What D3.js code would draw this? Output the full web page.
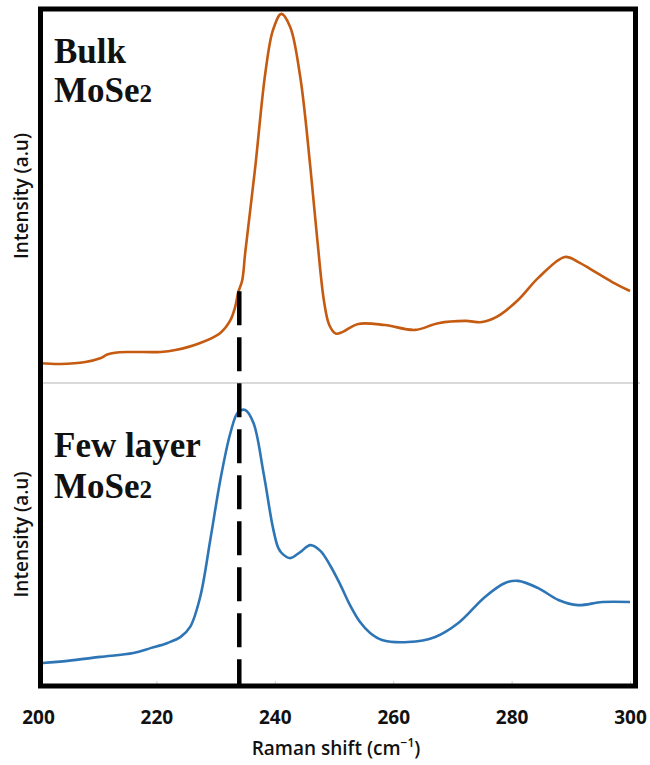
<!DOCTYPE html>
<html lang="en">
<head>
  <meta charset="UTF-8" />
  <title>Raman spectra – Bulk vs Few layer MoSe2</title>
  <script src="https://d3js.org/d3.v7.min.js"></script>
  <style>
    body { margin: 0; background: #fff; }
    svg { display: block; }
    .panel-label { font-family: "Liberation Serif", "Times New Roman", serif; font-weight: bold; font-size: 35px; fill: #111; }
    .axis-title { font-family: "Open Sans", sans-serif; font-size: 19px; font-weight: 600; fill: #111; }
    .tick text { font-family: "Open Sans", sans-serif; font-weight: bold; font-size: 19px; fill: #111; }
  </style>
</head>
<body>
  <svg width="650" height="765"></svg>
  <script>
    // Raman shift (cm-1) and intensity (a.u., 0-100 per panel)
    const bulkShift = [200.4, 203.8, 208.0, 210.5, 211.7, 213.0, 215.6, 220.7, 223.2, 227.4, 230.8, 232.5, 233.3, 233.8, 234.5, 235.0,
      236.7, 238.4, 239.7, 241.1, 242.6, 244.3, 246.0, 247.2, 248.3, 249.2, 250.3, 251.4, 254.1, 258.6, 263.7, 267.6,
      272.2, 275.0, 277.7, 281.1, 284.5, 289.0, 291.2, 293.6, 297.0, 300.0];
    const bulkIntensity = [5.3, 5.1, 5.6, 6.6, 7.6, 8.1, 8.3, 8.3, 8.8, 10.7, 13.4, 16.8, 20.3, 24.1, 27.5, 34.8,
      57.8, 82.9, 94.4, 98.7, 95.2, 81.8, 57.8, 38.0, 22.0, 15.5, 13.2, 13.6, 15.8, 15.5, 14.2, 16.0,
      16.6, 16.3, 17.9, 22.2, 28.1, 33.7, 32.4, 30.2, 27.0, 24.6];

    const fewShift = [200.8, 205.0, 210.5, 216.1, 219.0, 221.9, 224.1, 225.7, 227.4, 229.1, 230.8, 232.5, 233.8, 235.0,
      236.4, 238.1, 239.7, 240.6, 241.3, 242.6, 244.3, 246.0, 247.7, 249.4, 251.1, 252.7, 254.4, 256.1, 258.1,
      262.5, 267.1, 271.0, 275.5, 278.9, 281.1, 284.5, 287.9, 291.2, 295.3, 300.0];
    const fewIntensity = [7.6, 8.3, 9.6, 10.9, 12.5, 14.2, 16.2, 19.5, 29.4, 48.2, 68.0, 83.5, 90.4, 91.1,
      86.8, 70.3, 52.1, 45.5, 43.6, 42.2, 44.2, 46.5, 44.6, 39.6, 33.3, 26.7, 21.1, 17.5, 15.2,
      14.5, 16.2, 20.8, 29.4, 34.0, 34.7, 32.3, 28.4, 26.7, 27.7, 27.7];

    const xTicks = [200, 220, 240, 260, 280, 300];
    const markerShift = 234; // dashed reference line

    const svg = d3.select("svg");

    const x = d3.scaleLinear().domain([200, 300]).range([38, 630]);
    const yBulk = d3.scaleLinear().domain([0, 100]).range([383, 9]);
    const yFew = d3.scaleLinear().domain([0, 100]).range([686, 383]);

    // faint tick marks + labels along the bottom
    const xAxis = d3.axisBottom(x).tickValues(xTicks).tickSize(-5).tickFormat(d3.format("d"));
    const axisG = svg.append("g").attr("transform", "translate(0,686)").call(xAxis);
    axisG.select(".domain").remove();
    axisG.selectAll(".tick line").attr("stroke", "#cfcfcf").attr("stroke-width", 1);
    axisG.selectAll(".tick text").attr("y", 38).attr("dy", 0);

    // separator between the two spectra
    svg.append("line")
      .attr("x1", x(200) + 5).attr("x2", x.range()[1] + 10)
      .attr("y1", yBulk(0)).attr("y2", yBulk(0))
      .attr("stroke", "#d9d9d9").attr("stroke-width", 2);

    const lineGen = (yScale) => d3.line()
      .x((d) => x(d[0]))
      .y((d) => yScale(d[1]))
      .curve(d3.curveCatmullRom.alpha(0.5));

    svg.append("path")
      .datum(d3.zip(bulkShift, bulkIntensity))
      .attr("fill", "none")
      .attr("stroke", "#c55a11")
      .attr("stroke-width", 2.6)
      .attr("d", lineGen(yBulk));

    svg.append("path")
      .datum(d3.zip(fewShift, fewIntensity))
      .attr("fill", "none")
      .attr("stroke", "#2e75b6")
      .attr("stroke-width", 2.6)
      .attr("d", lineGen(yFew));

    // dashed line starts where it meets the bulk curve
    const i = d3.bisectLeft(bulkShift, markerShift);
    const t = (markerShift - bulkShift[i - 1]) / (bulkShift[i] - bulkShift[i - 1]);
    const markerTop = bulkIntensity[i - 1] + t * (bulkIntensity[i] - bulkIntensity[i - 1]);

    svg.append("line")
      .attr("x1", x(markerShift)).attr("x2", x(markerShift))
      .attr("y1", yBulk(markerTop) + 2).attr("y2", yFew(0))
      .attr("stroke", "#000").attr("stroke-width", 4.5)
      .attr("stroke-dasharray", "34,12");

    // frame
    svg.append("rect")
      .attr("x", 40.5).attr("y", 9)
      .attr("width", 595).attr("height", yFew(0) - 9)
      .attr("fill", "none").attr("stroke", "#000").attr("stroke-width", 5);

    // panel labels
    const addLabel = (lines, x0, y0, gap) => {
      const txt = svg.append("text").attr("class", "panel-label");
      lines.forEach((l, k) => {
        txt.append("tspan").attr("x", x0).attr("y", y0 + k * gap).text(l[0]);
        if (l[1]) txt.append("tspan").attr("font-size", "25px").text(l[1]);
      });
    };
    addLabel([["Bulk"], ["MoSe", "2"]], 54, 63, 39);
    addLabel([["Few layer"], ["MoSe", "2"]], 54, 457, 41);

    // axis titles
    [yBulk, yFew].forEach((s) => {
      const cy = (s.range()[0] + s.range()[1]) / 2;
      svg.append("text")
        .attr("class", "axis-title")
        .attr("text-anchor", "middle")
        .attr("transform", `translate(28,${cy}) rotate(-90)`)
        .text("Intensity (a.u)");
    });

    const xt = svg.append("text")
      .attr("class", "axis-title")
      .attr("text-anchor", "middle")
      .attr("x", 336).attr("y", 755);
    xt.append("tspan").text("Raman shift (cm");
    xt.append("tspan").attr("font-size", "12px").attr("dy", -8).text("−1");
    xt.append("tspan").attr("dy", 8).text(")");
  </script>
</body>
</html>
